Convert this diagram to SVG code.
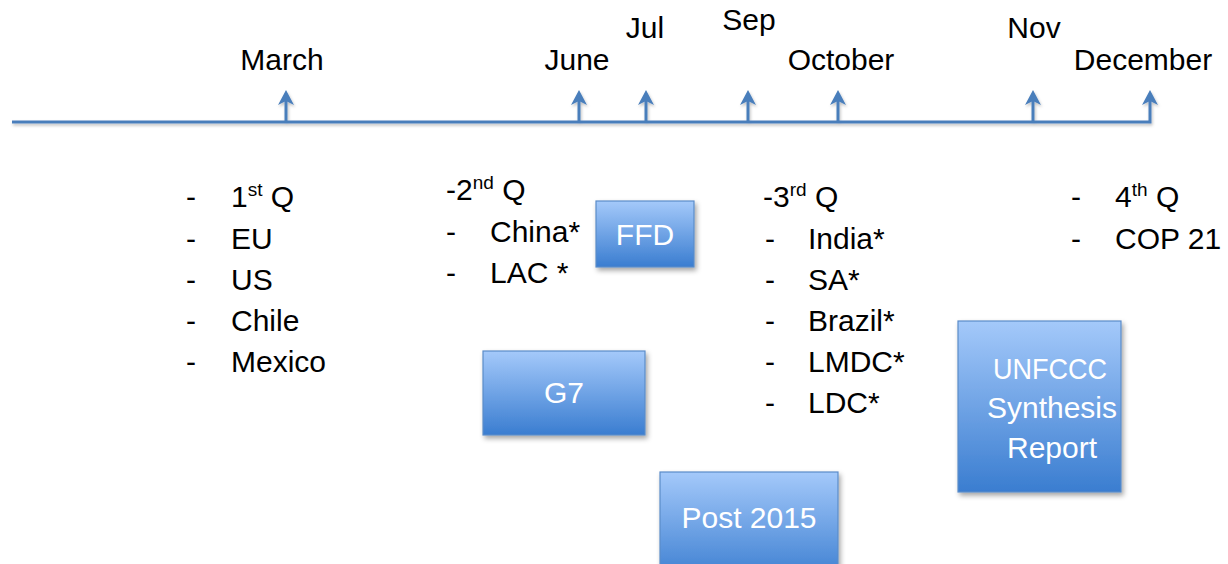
<svg xmlns="http://www.w3.org/2000/svg" width="1228" height="564" viewBox="0 0 1228 564">
<style>
.t{font-family:"Liberation Sans",Arial,sans-serif;font-size:30px;fill:#000}
.b{font-family:"Liberation Sans",Arial,sans-serif;font-size:30px;fill:#fff;text-anchor:middle}
.m{text-anchor:middle}
.sup{font-size:19px}
.box{fill:url(#g);stroke:#5b8cc8;stroke-width:1.2;filter:url(#sh)}
.ln{stroke:#4a7ebb;stroke-width:3;fill:none}
</style>
<defs>
<linearGradient id="g" x1="0" y1="0" x2="0" y2="1">
<stop offset="0" stop-color="#a4c9fa"/>
<stop offset="1" stop-color="#3a7dd0"/>
</linearGradient>
<filter id="sh" x="-10%" y="-10%" width="130%" height="130%">
<feDropShadow dx="2" dy="3" stdDeviation="2.5" flood-color="#000" flood-opacity="0.35"/>
</filter>
<filter id="lsh" x="-5%" y="-50%" width="110%" height="300%">
<feDropShadow dx="1" dy="2" stdDeviation="1.5" flood-color="#000" flood-opacity="0.25"/>
</filter>
<marker id="ah" markerUnits="userSpaceOnUse" markerWidth="16" markerHeight="18" viewBox="0 -9 16 18" refX="6" refY="0" orient="auto">
<path d="M15,0 L0,-8 L4,0 L0,8 Z" fill="#4a7ebb"/>
</marker>
</defs>
<g id="connectors" filter="url(#lsh)">
<path class="ln" d="M12,122 H1150 V99" marker-end="url(#ah)"/>
<path class="ln" d="M286,122 V99" marker-end="url(#ah)"/>
<path class="ln" d="M579,122 V99" marker-end="url(#ah)"/>
<path class="ln" d="M646,122 V99" marker-end="url(#ah)"/>
<path class="ln" d="M748,122 V99" marker-end="url(#ah)"/>
<path class="ln" d="M838,122 V99" marker-end="url(#ah)"/>
<path class="ln" d="M1033,122 V99" marker-end="url(#ah)"/>
</g>
<g id="months">
<text class="t m" x="282" y="70">March</text>
<text class="t m" x="577" y="70">June</text>
<text class="t m" x="645" y="38">Jul</text>
<text class="t m" x="749" y="30">Sep</text>
<text class="t m" x="841" y="70">October</text>
<text class="t m" x="1034" y="38">Nov</text>
<text class="t m" x="1143" y="70">December</text>
</g>
<g id="q1">
<text class="t" x="186" y="207">-</text><text class="t" x="231" y="207">1<tspan class="sup" dy="-11">st</tspan><tspan dy="11"> Q</tspan></text>
<text class="t" x="186" y="249">-</text><text class="t" x="231" y="249">EU</text>
<text class="t" x="186" y="290">-</text><text class="t" x="231" y="290">US</text>
<text class="t" x="186" y="331">-</text><text class="t" x="231" y="331">Chile</text>
<text class="t" x="186" y="372">-</text><text class="t" x="231" y="372">Mexico</text>
</g>
<g id="q2">
<text class="t" x="446" y="200">-2<tspan class="sup" dy="-11">nd</tspan><tspan dy="11"> Q</tspan></text>
<text class="t" x="446" y="242">-</text><text class="t" x="490" y="242">China*</text>
<text class="t" x="446" y="283">-</text><text class="t" x="490" y="283">LAC *</text>
</g>
<g id="q3">
<text class="t" x="763" y="207">-3<tspan class="sup" dy="-11">rd</tspan><tspan dy="11"> Q</tspan></text>
<text class="t" x="765" y="249">-</text><text class="t" x="808" y="249">India*</text>
<text class="t" x="765" y="290">-</text><text class="t" x="808" y="290">SA*</text>
<text class="t" x="765" y="331">-</text><text class="t" x="808" y="331">Brazil*</text>
<text class="t" x="765" y="372">-</text><text class="t" x="808" y="372">LMDC*</text>
<text class="t" x="765" y="413">-</text><text class="t" x="808" y="413">LDC*</text>
</g>
<g id="q4">
<text class="t" x="1071" y="207">-</text><text class="t" x="1115" y="207">4<tspan class="sup" dy="-11">th</tspan><tspan dy="11"> Q</tspan></text>
<text class="t" x="1071" y="249">-</text><text class="t" x="1115" y="249">COP 21</text>
</g>
<g id="ffd">
<rect class="box" x="596" y="201" width="98" height="66"/>
<text class="b" x="645" y="245">FFD</text>
</g>
<g id="g7">
<rect class="box" x="483" y="351" width="162" height="84"/>
<text class="b" x="564" y="403">G7</text>
</g>
<g id="post2015">
<rect class="box" x="660" y="472" width="178" height="110"/>
<text class="b" x="749" y="528">Post 2015</text>
</g>
<g id="unfccc">
<rect class="box" x="958" y="321" width="163" height="171"/>
<text class="b" x="1050" y="379" textLength="114" lengthAdjust="spacingAndGlyphs">UNFCCC</text>
<text class="b" x="1052" y="418">Synthesis</text>
<text class="b" x="1052" y="458">Report</text>
</g>
</svg>
